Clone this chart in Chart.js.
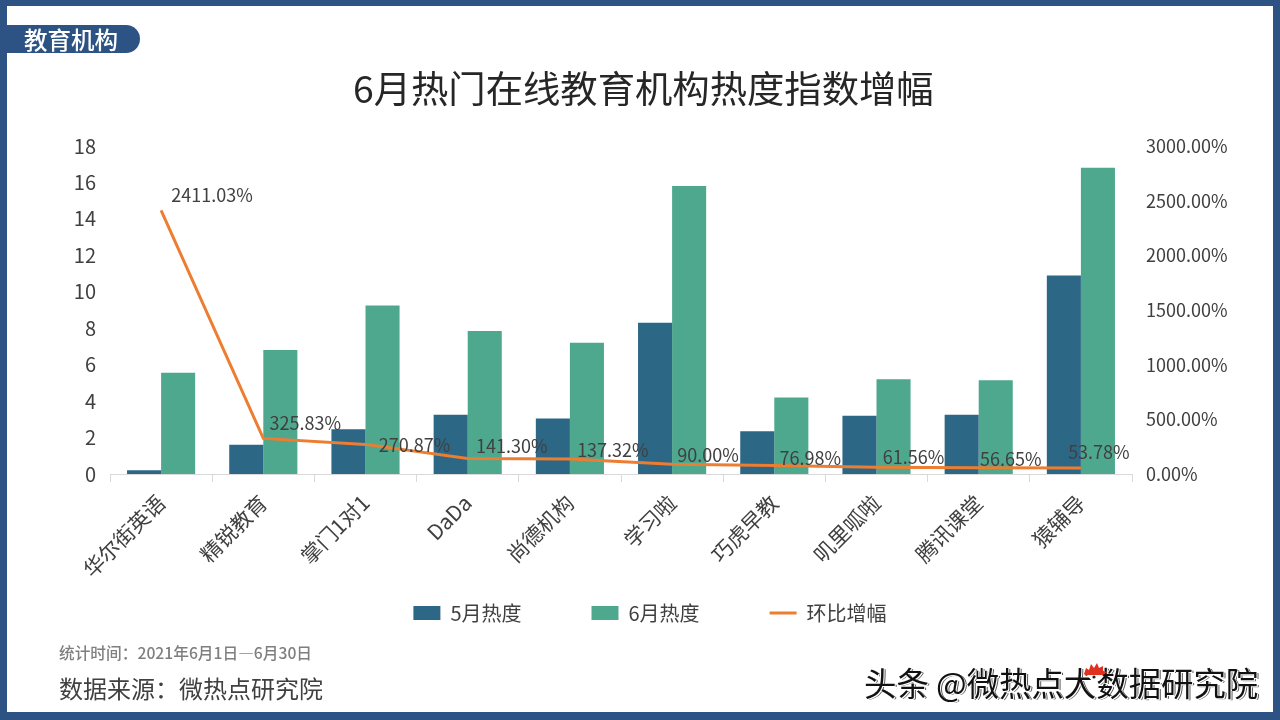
<!DOCTYPE html>
<html lang="zh-CN">
<head>
<meta charset="utf-8">
<title>6月热门在线教育机构热度指数增幅</title>
<script src="https://cdn.jsdelivr.net/npm/chart.js@4"></script>
<style>
    html, body { margin: 0; padding: 0; background: #fff; }
    body { position: relative; width: 1280px; height: 720px; overflow: hidden; font-family: "Noto Sans CJK SC", sans-serif; }
    canvas { position: absolute; left: 0; top: 0; }
    .frame { position: absolute; left: 0; top: 0; width: 1266px; height: 706px; border: solid #2c5384; border-width: 6px 7px 8px 7px; }
    .text { position: absolute; white-space: nowrap; line-height: 1; }
    .tag { position: absolute; left: 7px; top: 25px; width: 133px; height: 28px; background: #2c5384; border-radius: 0 14px 14px 0; }
    #tagText { left: 24px; top: 28px; font-size: 23.5px; color: #fff; font-weight: 500; }
    #title { left: 353px; top: 69px; font-size: 37.35px; color: #262626; }
    #period { left: 59px; top: 645px; font-size: 15.7px; color: #7f7f7f; font-weight: 500; }
    #source { left: 59px; top: 676px; font-size: 24px; color: #404040; }
    #mark { left: 864px; top: 666px; font-size: 32.4px; color: #111; text-shadow: 1px 1px 0 #fff, -1px 0 0 #fff, 2px 1px 0 #555; }
    #logo { position: absolute; left: 1082px; top: 662px; }
</style>
</head>
<body>
<canvas id="chart" width="1280" height="720"></canvas>
<div class="frame"></div>
<div class="tag"></div>
<div class="text" id="tagText">教育机构</div>
<div class="text" id="title">6月热门在线教育机构热度指数增幅</div>
<div class="text" id="period">统计时间：2021年6月1日—6月30日</div>
<div class="text" id="source">数据来源：微热点研究院</div>
<div class="text" id="mark">头条 @微热点大数据研究院</div>
<svg id="logo" width="26" height="22" viewBox="0 0 26 22">
    <path d="M2 12 L4 6 L7 8 L9 2 L12 6 L15 1 L17 6 L21 4 L21 9 L25 10 L21 13 L4 14 Z" fill="#e0301e"/>
    <path d="M5 13 L21 13 L17 19 L10 19 Z" fill="#fff"/>
    <circle cx="12" cy="15" r="1.6" fill="#222"/>
</svg>
<script>
const categories = ['华尔街英语', '精锐教育', '掌门1对1', 'DaDa', '尚德机构', '学习啦', '巧虎早教', '叽里呱啦', '腾讯课堂', '猿辅导'];
const mayHeat = [0.2, 1.6, 2.45, 3.25, 3.05, 8.3, 2.35, 3.2, 3.25, 10.9];
const juneHeat = [5.55, 6.8, 9.25, 7.85, 7.2, 15.8, 4.2, 5.2, 5.15, 16.8];
const growth = [2411.03, 325.83, 270.87, 141.30, 137.32, 90.00, 76.98, 61.56, 56.65, 53.78];

// hand placed label nudges, px from the line point
const labelDx = [51, 42, 49, 44, 43, 36, 36, 37, 32, 18];
const labelDy = [-15, -15, 1, -12, -9, -9, -7, -10, -9, -16];

const textColor = '#404040';
const fontFamily = '"Noto Sans CJK SC", sans-serif';

const growthLabels = {
    id: 'growthLabels',
    // the x scale box is kept short for the legend, let the rotated labels run past it
    afterLayout(chart) {
        chart.scales.x.bottom += 70;
    },
    afterDatasetsDraw(chart) {
        const { ctx, scales } = chart;
        ctx.save();
        ctx.font = `18px ${fontFamily}`;
        ctx.fillStyle = textColor;
        ctx.textAlign = 'center';
        ctx.textBaseline = 'middle';
        growth.forEach((value, index) => {
            const x = scales.x.getPixelForValue(index) + labelDx[index];
            const y = scales.y1.getPixelForValue(value) + labelDy[index];
            ctx.fillText(`${value.toFixed(2)}%`, x, y);
        });
        ctx.restore();
    },
};

new Chart(document.getElementById('chart'), {
    type: 'bar',
    plugins: [growthLabels],
    data: {
        labels: categories,
        datasets: [
            { label: '5月热度', data: mayHeat, backgroundColor: '#2d6786', borderWidth: 0, yAxisID: 'y', order: 1 },
            { label: '6月热度', data: juneHeat, backgroundColor: '#4ea88e', borderWidth: 0, yAxisID: 'y', order: 1 },
            {
                type: 'line',
                label: '环比增幅',
                data: growth,
                borderColor: '#ed7d31',
                backgroundColor: '#ed7d31',
                borderWidth: 3,
                pointRadius: 0,
                tension: 0,
                yAxisID: 'y1',
                order: 0,
            },
        ],
    },
    options: {
        responsive: false,
        animation: false,
        devicePixelRatio: 1,
        layout: { padding: { left: 20, top: 146, right: 0, bottom: 87 } },
        datasets: { bar: { categoryPercentage: 2 / 3, barPercentage: 1 } },
        scales: {
            x: {
                grid: { drawOnChartArea: false, color: '#d9d9d9', tickLength: 8 },
                border: { color: '#d9d9d9' },
                afterFit: (scale) => { scale.height = 59; },
                ticks: {
                    color: textColor,
                    font: { family: fontFamily, size: 21 },
                    minRotation: 45,
                    maxRotation: 45,
                    autoSkip: false,
                    padding: 8,
                },
            },
            y: {
                min: 0,
                max: 18,
                grid: { display: false },
                border: { display: false },
                afterFit: (scale) => { scale.width = 90; },
                ticks: {
                    stepSize: 2,
                    color: textColor,
                    padding: 6,
                    font: { family: fontFamily, size: 20 },
                },
            },
            y1: {
                position: 'right',
                min: 0,
                max: 3000,
                grid: { display: false },
                border: { display: false },
                afterFit: (scale) => { scale.width = 148; },
                ticks: {
                    stepSize: 500,
                    color: textColor,
                    padding: 6,
                    font: { family: fontFamily, size: 18 },
                    callback: (value) => `${value.toFixed(2)}%`,
                },
            },
        },
        plugins: {
            tooltip: { enabled: false },
            legend: {
                position: 'bottom',
                labels: {
                    color: textColor,
                    font: { family: fontFamily, size: 20 },
                    usePointStyle: true,
                    pointStyleWidth: 27,
                    boxHeight: 14,
                    padding: 70,
                    sort: (a, b) => a.datasetIndex - b.datasetIndex,
                    generateLabels: (chart) => Chart.defaults.plugins.legend.labels.generateLabels(chart)
                        .map((item) => ({ ...item, pointStyle: item.datasetIndex === 2 ? 'line' : 'rect' })),
                },
            },
        },
    },
});
</script>
</body>
</html>
